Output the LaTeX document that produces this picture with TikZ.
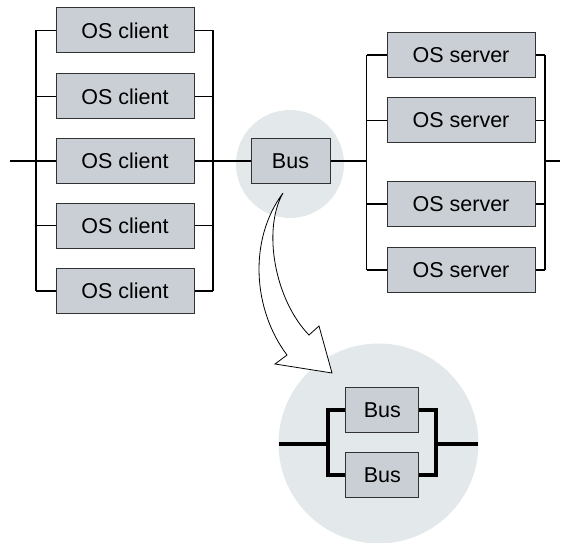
\documentclass[tikz,border=0pt]{standalone}
\usepackage{fontspec}
\setmainfont{Liberation Sans}
\definecolor{boxfill}{RGB}{201,207,213}
\definecolor{halo}{RGB}{227,232,235}
\definecolor{edge}{RGB}{50,50,50}
\begin{document}
\begin{tikzpicture}[x=1pt,y=-1pt,
  unit/.style={draw=edge,line width=1pt,fill=boxfill,inner sep=0pt,
    minimum height=45pt,font=\fontsize{21.5}{25}\selectfont},
  client/.style={unit,minimum width=138pt},
  server/.style={unit,minimum width=148pt},
  busbox/.style={unit,minimum width=79pt},
  smallbus/.style={unit,minimum width=73pt},
  wire/.style={line width=1.3pt,black},
  thickwire/.style={line width=4pt,black,line cap=butt,line join=miter},
  bigarrow/.style={draw=black,line width=0.8pt,fill=white,line join=miter}]
\useasboundingbox (0,0) rectangle (563,543);

% highlight discs
\fill[halo] (290,164) circle (54);
\fill[halo] (378.5,443.5) circle (100);

% rails
\coordinate (lbar) at (36,0);
\coordinate (rbar) at (213,0);
\coordinate (sl) at (366.7,0);
\coordinate (sr) at (545,0);
\coordinate (in) at (10,161);
\coordinate (out) at (560,161);

% client column
\foreach \i/\y in {1/30.5,2/96.5,3/161,4/225.5,5/291}
  \node[client] (c\i) at (125,\y) {OS client};

% server column
\foreach \i/\y in {1/55,2/120.5,3/204,4/270}
  \node[server] (s\i) at (461,\y) {OS server};

% bus
\node[busbox] (bus) at (290.5,161) {Bus};

% client wiring
\foreach \i in {1,...,5} {
  \draw[wire] (c\i.west) -- (c\i.west -| lbar);
  \draw[wire] (c\i.east) -- (c\i.east -| rbar);
}
\draw[wire] (c1.west -| lbar) -- (c5.west -| lbar);
\draw[wire] (c1.east -| rbar) -- (c5.east -| rbar);
\draw[wire] (in) -- (c3.west);
\draw[wire] (c3.east) -- (bus.west);

% server wiring
\foreach \i in {1,...,4} {
  \draw[wire] (s\i.west) -- (s\i.west -| sl);
  \draw[wire] (s\i.east) -- (s\i.east -| sr);
}
\draw[wire] (s1.west -| sl) -- (s4.west -| sl);
\draw[wire] (s1.east -| sr) -- (s4.east -| sr);
\draw[wire] (bus.east) -- (bus.east -| sl);
\draw[wire] (out -| sr) -- (out);

% zoom arrow
\draw[bigarrow] (283,193) .. controls (248,240) and (253,310) .. (287,355)
  -- (275,364) -- (332,373) -- (319,326) -- (309,335)
  .. controls (275,300) and (262,230) .. (283,193) -- cycle;

% redundant bus detail
\node[smallbus] (b1) at (382.3,409.8) {Bus};
\node[smallbus] (b2) at (382.3,475) {Bus};
\coordinate (bl) at (327.7,0);
\coordinate (br) at (436.3,0);
\coordinate (din) at (279,443.5);
\coordinate (dout) at (478,443.5);
\draw[thickwire] (din) -- (din -| bl);
\draw[thickwire] (dout -| br) -- (dout);
\draw[thickwire] (b1.west) -- (b1.west -| bl) -- (b2.west -| bl) -- (b2.west);
\draw[thickwire] (b1.east) -- (b1.east -| br) -- (b2.east -| br) -- (b2.east);
\end{tikzpicture}
\end{document}
